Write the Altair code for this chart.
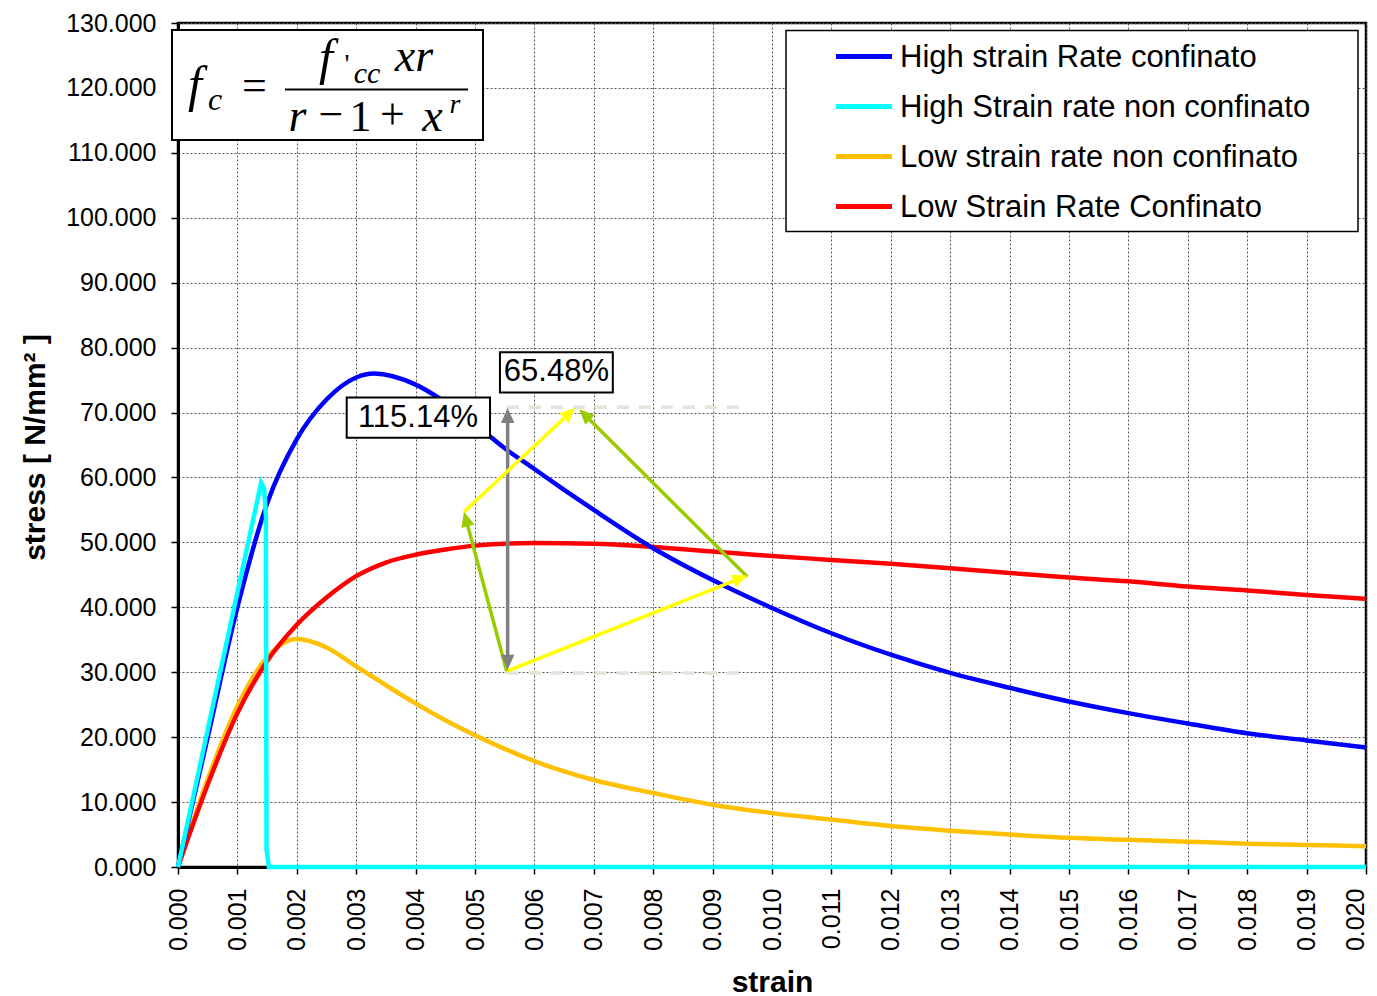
import math
import altair as alt
import pandas as pd

# ---------------- data ----------------
series_names = ["High strain Rate confinato", "High Strain rate non confinato",
                "Low strain rate non confinato", "Low Strain Rate Confinato"]
series_colors = ["#0000FF", "#00FFFF", "#FFC000", "#FF0000"]

hi_conf_strain = [0, 0.0005, 0.001, 0.0015, 0.002, 0.0025, 0.003, 0.0033, 0.004,
                  0.0045, 0.005, 0.0055, 0.006, 0.0065, 0.007, 0.008, 0.009, 0.010, 0.011,
                  0.012, 0.013, 0.014, 0.015, 0.016, 0.017, 0.018, 0.019, 0.020]
hi_conf_stress = [0, 20.0, 40.0, 56.0, 65.9, 72.0, 75.4, 76.0, 74.3,
                  71.6, 68.2, 64.5, 61.3, 58.1, 55.0, 49.1, 44.2, 39.9, 36.0,
                  32.7, 29.9, 27.6, 25.5, 23.7, 22.1, 20.6, 19.5, 18.4]

hi_unconf_strain = [0, 0.00140, 0.00145, 0.00148, 0.00149, 0.00153, 0.020]
hi_unconf_stress = [0, 59.2, 58.3, 54.0, 2.7, 0, 0]

lo_unconf_strain = [0, 0.0005, 0.001, 0.0015, 0.002, 0.0025, 0.003, 0.0035, 0.004, 0.0045,
                    0.005, 0.0055, 0.006, 0.007, 0.008, 0.009, 0.010, 0.011, 0.012, 0.013,
                    0.014, 0.015, 0.016, 0.017, 0.018, 0.019, 0.020]
lo_unconf_stress = [0, 13.5, 24.8, 32.3, 35.1, 33.8, 30.9, 28.0, 25.2, 22.6,
                    20.3, 18.2, 16.3, 13.4, 11.4, 9.6, 8.3, 7.3, 6.3, 5.6,
                    5.0, 4.5, 4.2, 3.9, 3.6, 3.4, 3.2]

lo_conf_strain = [0, 0.0005, 0.001, 0.0015, 0.002, 0.0025, 0.003, 0.0035, 0.004, 0.0045,
                  0.005, 0.006, 0.007, 0.008, 0.009, 0.010, 0.011, 0.012, 0.013, 0.014,
                  0.015, 0.016, 0.017, 0.018, 0.019, 0.020]
lo_conf_stress = [0, 12.7, 23.7, 31.7, 37.3, 41.5, 44.8, 46.9, 48.1, 48.9,
                  49.5, 49.9, 49.8, 49.3, 48.6, 47.9, 47.3, 46.7, 46.0, 45.3,
                  44.6, 44.0, 43.2, 42.6, 41.9, 41.3]

x_ticks = [round(i * 0.001, 3) for i in range(21)]
y_ticks = list(range(0, 131, 10))

# annotation arrows (data coordinates)
arrow_x0 = [0.00555, 0.005534, 0.004815, 0.005534, 0.009584]
arrow_y0 = [30.4, 30.15, 54.7, 30.15, 44.7]
arrow_x1 = [0.00555, 0.009584, 0.006684, 0.004815, 0.006756]
arrow_y1 = [70.7, 44.9, 70.7, 54.7, 70.5]
arrow_colors = ["#808080", "#FFFF00", "#FFFF00", "#99CC00", "#99CC00"]
arrow_both = [True, False, False, False, False]

dash_y = [70.8, 29.9]
dash_x0 = 0.005534
dash_x1 = 0.009545

label_texts = ["115.14%", "65.48%"]
label_x = [0.00404, 0.00637]
label_y = [69.2, 76.2]
label_box_x0 = [0.00284, 0.00542]
label_box_x1 = [0.005253, 0.00732]
label_box_y0 = [66.1, 73.1]
label_box_y1 = [72.3, 79.3]

# ---------------- layout ----------------
W, H = 1188, 844
X_DOM = [0, 0.02]
Y_DOM = [0, 130]
px_x = W / (X_DOM[1] - X_DOM[0])
px_y = H / (Y_DOM[1] - Y_DOM[0])
SANS = "Liberation Sans"
SERIF = "Liberation Serif"

xscale = alt.Scale(domain=X_DOM, nice=False, zero=False)
yscale = alt.Scale(domain=Y_DOM, nice=False, zero=False)

x_axis = alt.Axis(values=x_ticks, format=".3f", labelAngle=270, labelFontSize=25,
                  labelFont=SANS, labelColor="black", labelPadding=14, labelFlush=False,
                  labelOverlap=False,
                  labelOffset={"condition": {"test": "datum.value > 0.0195", "value": -11}, "value": 0},
                  tickSize=7, tickColor="black", tickWidth=1.5,
                  domainColor="black", domainWidth=3, grid=True, gridColor="#555555",
                  gridDash=[2, 2], gridWidth=1, title="strain", titleFont=SANS,
                  titleFontSize=30, titleFontWeight="bold", titleColor="black",
                  titleBaseline="alphabetic", titleAlign="center", titleX=W / 2, titleY=124)
y_axis = alt.Axis(values=y_ticks, format=".3f", labelFontSize=25, labelFont=SANS,
                  labelColor="black", labelPadding=15, labelOverlap=False, labelFlush=False,
                  tickSize=7, tickColor="black", tickWidth=1.5, domainColor="black",
                  domainWidth=3, grid=True, gridColor="#555555", gridDash=[2, 2], gridWidth=1,
                  title="stress [ N/mm² ]", titleFont=SANS, titleFontSize=30,
                  titleFontWeight="bold", titleColor="black", titleAngle=270,
                  titleBaseline="alphabetic", titleAlign="center", titleX=-134, titleY=H / 2 + 2)


def X(field="strain"):
    return alt.X(f"{field}:Q", scale=xscale, axis=x_axis)


def Y(field="stress"):
    return alt.Y(f"{field}:Q", scale=yscale, axis=y_axis)


layers = []

# curves (drawing order: yellow, red, blue, cyan)
curve_specs = [
    (2, lo_unconf_strain, lo_unconf_stress, "monotone"),
    (3, lo_conf_strain, lo_conf_stress, "monotone"),
    (0, hi_conf_strain, hi_conf_stress, "monotone"),
    (1, hi_unconf_strain, hi_unconf_stress, "linear"),
]
for idx, xs, ys, interp in curve_specs:
    df = pd.DataFrame({"strain": xs, "stress": ys, "series": series_names[idx],
                       "order": list(range(len(xs)))})
    layers.append(
        alt.Chart(df).mark_line(strokeWidth=4.5, interpolate=interp, color=series_colors[idx])
        .encode(x=X(), y=Y(), order="order:Q")
    )

# dashed guide lines
dash_df = pd.DataFrame({"strain": [dash_x0] * len(dash_y), "strain2": [dash_x1] * len(dash_y),
                        "stress": dash_y})
layers.append(
    alt.Chart(dash_df).mark_rule(strokeWidth=3.5, color="#E4E4DA", strokeDash=[12, 10])
    .encode(x=X(), x2="strain2:Q", y=Y())
)

# arrows
seg_rows, head_rows = [], []
for x0, y0, x1, y1, col, both in zip(arrow_x0, arrow_y0, arrow_x1, arrow_y1, arrow_colors, arrow_both):
    dxp = (x1 - x0) * px_x
    dyp = -(y1 - y0) * px_y
    L = math.hypot(dxp, dyp)
    ux, uy = dxp / L, dyp / L
    short = 9.0
    ex = x1 - ux * short / px_x
    ey = y1 + uy * short / px_y
    sx, sy = x0, y0
    if both:
        sx = x0 + ux * short / px_x
        sy = y0 - uy * short / px_y
    seg_rows.append({"strain": sx, "stress": sy, "strain2": ex, "stress2": ey, "color": col})
    ang = math.degrees(math.atan2(dxp, -dyp)) % 360
    head_rows.append({"strain": x1, "stress": y1, "angle": ang, "color": col})
    if both:
        head_rows.append({"strain": x0, "stress": y0, "angle": (ang + 180) % 360, "color": col})

seg_df = pd.DataFrame(seg_rows)
head_df = pd.DataFrame(head_rows)
layers.append(
    alt.Chart(seg_df).mark_rule(strokeWidth=3.5)
    .encode(x=X(), x2="strain2:Q", y=Y(), y2="stress2:Q",
            color=alt.Color("color:N", scale=None))
)
layers.append(
    alt.Chart(head_df).mark_point(shape="M0,0L0.9,2L-0.9,2Z", filled=True, size=225,
                                  opacity=1, strokeWidth=0)
    .encode(x=X(), y=Y(), angle=alt.Angle("angle:Q", scale=None),
            color=alt.Color("color:N", scale=None))
)

# percentage labels in boxes
box_df = pd.DataFrame({"strain": label_box_x0, "strain2": label_box_x1,
                       "stress": label_box_y0, "stress2": label_box_y1})
layers.append(
    alt.Chart(box_df).mark_rect(fill="white", stroke="black", strokeWidth=2)
    .encode(x=X(), x2="strain2:Q", y=Y(), y2="stress2:Q")
)
lab_df = pd.DataFrame({"strain": label_x, "stress": label_y, "text": label_texts})
layers.append(
    alt.Chart(lab_df).mark_text(font=SANS, fontSize=31, color="black", align="center",
                                baseline="middle")
    .encode(x=X(), y=Y(), text="text:N")
)

# ---------------- decorations in pixel space (relative to plot origin) ----------------
one = pd.DataFrame({"k": [0]})
OX, OY = 178, 23.5


def px(ax):
    return ax - OX


def py(ay):
    return ay - OY


# formula box
layers.append(
    alt.Chart(one).mark_rect(fill="white", stroke="black", strokeWidth=2)
    .encode(x=alt.value(px(172)), x2=alt.value(px(483)), y=alt.value(py(30.5)), y2=alt.value(py(140.5)))
)
layers.append(
    alt.Chart(one).mark_rule(color="black", strokeWidth=2)
    .encode(x=alt.value(px(285)), x2=alt.value(px(468)), y=alt.value(py(90)))
)
formula_pieces = [
    ("f", 195, 101, 50, "italic"),
    ("c", 215, 110, 32, "italic"),
    ("=", 254.5, 100, 44, "normal"),
    ("f", 326, 74, 50, "italic"),
    ("'", 347, 73, 28, "normal"),
    ("cc", 367, 83, 30, "italic"),
    ("xr", 414, 71, 46, "italic"),
    ("r", 297.5, 131, 46, "italic"),
    ("\u2212", 331, 129, 44, "normal"),
    ("1", 360.5, 131, 44, "normal"),
    ("+", 392.5, 129, 44, "normal"),
    ("x", 432.5, 131, 46, "italic"),
    ("r", 455, 113, 28, "italic"),
]
for t, ax, ay, fs, st in formula_pieces:
    layers.append(
        alt.Chart(one).mark_text(text=t, font=SERIF, fontSize=fs, fontStyle=st, color="black",
                                 align="center", baseline="alphabetic")
        .encode(x=alt.value(px(ax)), y=alt.value(py(ay)))
    )

# legend
layers.append(
    alt.Chart(one).mark_rect(fill="white", stroke="black", strokeWidth=1.5)
    .encode(x=alt.value(px(786)), x2=alt.value(px(1358)), y=alt.value(py(31)), y2=alt.value(py(232)))
)
for i, (name, col) in enumerate(zip(series_names, series_colors)):
    row_y = 58 + 50 * i
    layers.append(
        alt.Chart(one).mark_rule(color=col, strokeWidth=5)
        .encode(x=alt.value(px(836)), x2=alt.value(px(892)), y=alt.value(py(row_y - 1)))
    )
    layers.append(
        alt.Chart(one).mark_text(text=name, font=SANS, fontSize=31, color="black",
                                 align="left", baseline="middle")
        .encode(x=alt.value(px(900)), y=alt.value(py(row_y)))
    )

chart = (
    alt.layer(*layers)
    .properties(width=W, height=H, padding={"left": 170, "top": 15, "right": 3, "bottom": 140},
                autosize=alt.AutoSizeParams(type="none"), background="white")
    .configure_view(stroke="black", strokeWidth=2.5)
)

chart.save("out.html", embed_options={"renderer": "svg", "actions": False})
